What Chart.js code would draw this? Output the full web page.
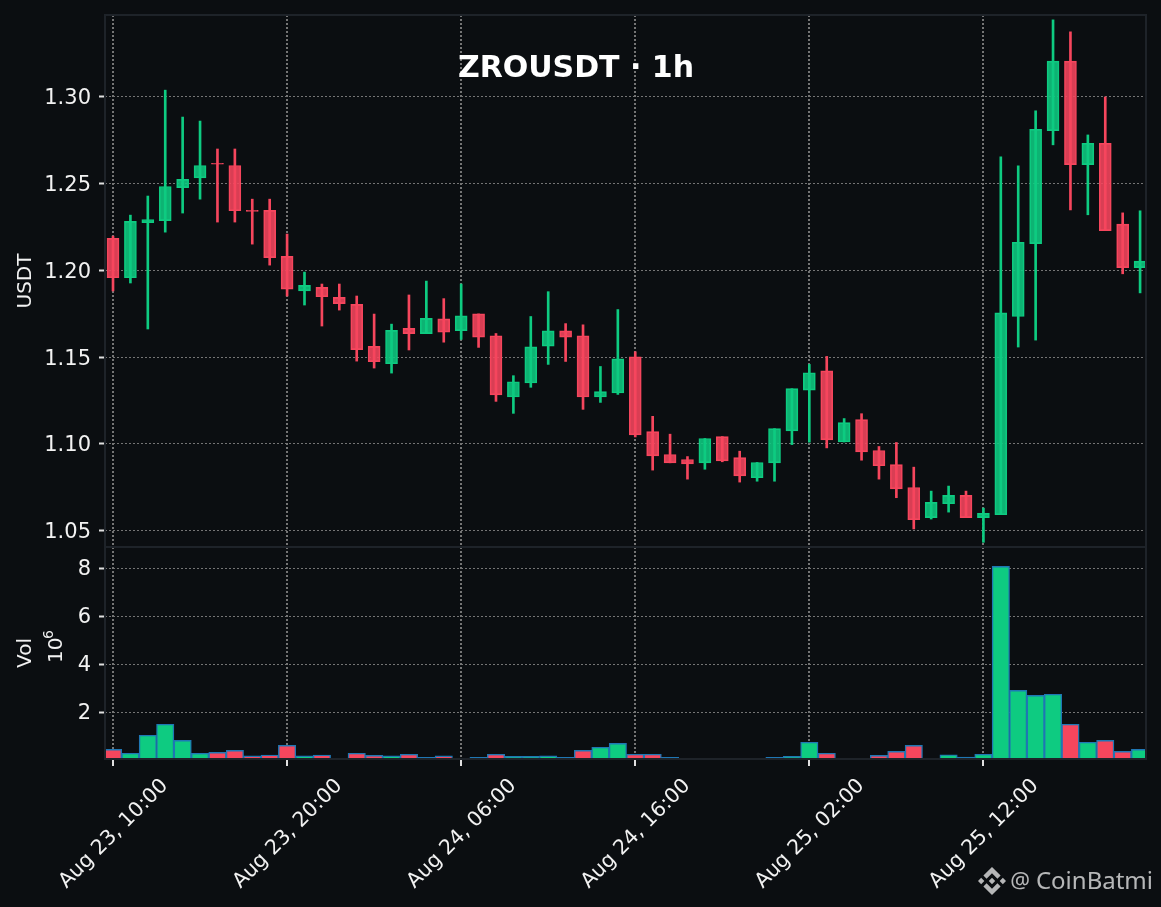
<!DOCTYPE html>
<html>
<head>
<meta charset="utf-8">
<title>ZROUSDT 1h</title>
<script src="https://cdn.jsdelivr.net/npm/chart.js@4"></script>
<style>
  html, body { margin: 0; padding: 0; background: #0b0e11; }
  canvas { display: block; }
</style>
</head>
<body>
<canvas id="chart" width="1161" height="907"></canvas>
<script>
const opens = [
  1.2184, 1.1957, 1.2274, 1.2286, 1.2476, 1.2533, 1.2617, 1.2604, 1.2345, 1.2345,
  1.2080, 1.1882, 1.1902, 1.1844, 1.1804, 1.1562, 1.1462, 1.1666, 1.1635, 1.1720,
  1.1653, 1.1749, 1.1623, 1.1270, 1.1351, 1.1563, 1.1651, 1.1623, 1.1270, 1.1293,
  1.1502, 1.1071, 1.0939, 1.0910, 1.0891, 1.1042, 1.0921, 1.0805, 1.0891, 1.1075,
  1.1310, 1.1421, 1.1011, 1.1140, 1.0962, 1.0881, 1.0749, 1.0575, 1.0655, 1.0703,
  1.0575, 1.0592, 1.1734, 1.2154, 1.2805, 1.3205, 1.2609, 1.2732, 1.2266, 1.2016,
];
const closes = [
  1.1957, 1.2282, 1.2293, 1.2483, 1.2524, 1.2604, 1.2612, 1.2343, 1.2340, 1.2073,
  1.1892, 1.1913, 1.1848, 1.1808, 1.1543, 1.1474, 1.1654, 1.1635, 1.1723, 1.1644,
  1.1738, 1.1615, 1.1282, 1.1358, 1.1559, 1.1651, 1.1615, 1.1270, 1.1301, 1.1490,
  1.1052, 1.0931, 1.0891, 1.0885, 1.1031, 1.0902, 1.0816, 1.0893, 1.1088, 1.1318,
  1.1410, 1.1023, 1.1123, 1.0954, 1.0874, 1.0741, 1.0563, 1.0663, 1.0703, 1.0575,
  1.0600, 1.1755, 1.2162, 1.2813, 1.3205, 1.2609, 1.2732, 1.2229, 1.2016, 1.2053,
];
const highs = [
  1.2197, 1.2318, 1.2428, 1.3038, 1.2883, 1.2860, 1.2699, 1.2699, 1.2410, 1.2410,
  1.2209, 1.1990, 1.1921, 1.1921, 1.1852, 1.1748, 1.1690, 1.1858, 1.1938, 1.1837,
  1.1921, 1.1749, 1.1636, 1.1393, 1.1734, 1.1877, 1.1693, 1.1686, 1.1446, 1.1774,
  1.1531, 1.1159, 1.1056, 1.0927, 1.1031, 1.1042, 1.0958, 1.0893, 1.1088, 1.1318,
  1.1458, 1.1504, 1.1146, 1.1174, 1.0985, 1.1008, 1.0866, 1.0728, 1.0757, 1.0728,
  1.0630, 1.2654, 1.2602, 1.2919, 1.3443, 1.3374, 1.2780, 1.2999, 1.2331, 1.2343,
];
const lows = [
  1.1881, 1.1927, 1.1662, 1.2220, 1.2330, 1.2410, 1.2278, 1.2278, 1.2151, 1.2030,
  1.1852, 1.1800, 1.1679, 1.1771, 1.1477, 1.1437, 1.1408, 1.1541, 1.1635, 1.1586,
  1.1602, 1.1556, 1.1245, 1.1176, 1.1326, 1.1458, 1.1475, 1.1199, 1.1239, 1.1285,
  1.1040, 1.0849, 1.0891, 1.0797, 1.0854, 1.0897, 1.0780, 1.0785, 1.0785, 1.0996,
  1.1010, 1.0977, 1.1011, 1.0906, 1.0797, 1.0690, 1.0510, 1.0567, 1.0607, 1.0575,
  1.0433, 1.0592, 1.1558, 1.1598, 1.2723, 1.2348, 1.2320, 1.2229, 1.1980, 1.1870,
];
// volume in millions
const volumes = [
  0.44, 0.28, 1.03, 1.49, 0.82, 0.28, 0.32, 0.40, 0.17, 0.21,
  0.61, 0.17, 0.21, 0.06, 0.28, 0.19, 0.17, 0.24, 0.11, 0.17,
  0.07, 0.11, 0.24, 0.15, 0.15, 0.17, 0.11, 0.40, 0.53, 0.69,
  0.24, 0.24, 0.11, 0.05, 0.05, 0.05, 0.04, 0.03, 0.11, 0.15,
  0.74, 0.28, 0.05, 0.05, 0.19, 0.36, 0.61, 0.05, 0.22, 0.12,
  0.24, 8.07, 2.90, 2.69, 2.74, 1.49, 0.74, 0.82, 0.36, 0.44,
];
const priceTicks = [1.05, 1.10, 1.15, 1.20, 1.25, 1.30];
const volumeTicks = [2, 4, 6, 8];
const timeTicks = [0, 10, 20, 30, 40, 50];
const timeLabels = ['Aug 23, 10:00', 'Aug 23, 20:00', 'Aug 24, 06:00', 'Aug 24, 16:00', 'Aug 25, 02:00', 'Aug 25, 12:00'];

const UP = '#0ecb81';
const DOWN = '#f6465d';
const UP_FILL = 'rgba(14, 203, 129, 0.88)';
const DOWN_FILL = 'rgba(246, 70, 93, 0.88)';
const BG = '#0b0e11';
const FRAME = '#1e2329';
const TEXT = '#f2f2f2';
const GRID = '#757575';

const isUp = opens.map((o, i) => closes[i] >= o);
const pick = (up, down) => isUp.map((u) => (u ? up : down));

const logoPath = new Path2D('M38.73 53.2L63.3 28.63L87.88 53.21L102.18 38.91L63.3 0L24.43 38.9z'
  + 'M0 63.31L14.3 49.01L28.6 63.31L14.3 77.61z'
  + 'M38.73 73.41L63.3 97.99L87.88 73.4L102.18 87.69L63.3 126.61L24.43 87.72z'
  + 'M98.01 63.31L112.31 49.01L126.61 63.31L112.31 77.61z'
  + 'M77.81 63.3L63.31 48.8L48.8 63.3L63.3 77.8z');

const background = {
  id: 'background',
  beforeDraw(chart) {
    const { ctx, width, height } = chart;
    ctx.save();
    ctx.fillStyle = BG;
    ctx.fillRect(0, 0, width, height);
    ctx.restore();
  },
};

function rotatedText(ctx, text, x, y, font) {
  ctx.save();
  ctx.translate(x, y);
  ctx.rotate(-Math.PI / 2);
  ctx.font = font;
  ctx.fillText(text, 0, 0);
  ctx.restore();
}

const decorations = {
  id: 'decorations',
  afterDraw(chart) {
    const { ctx, chartArea } = chart;
    const split = chart.scales.yPrice.bottom;
    ctx.save();

    ctx.strokeStyle = FRAME;
    ctx.lineWidth = 2;
    ctx.strokeRect(chartArea.left, chartArea.top, chartArea.width, chartArea.height);
    ctx.beginPath();
    ctx.moveTo(chartArea.left, split);
    ctx.lineTo(chartArea.right, split);
    ctx.stroke();

    ctx.fillStyle = '#ffffff';
    ctx.font = 'bold 30px "DejaVu Sans"';
    ctx.textAlign = 'center';
    ctx.textBaseline = 'middle';
    ctx.fillText('ZROUSDT · 1h', 576, 69);

    // volume multiplier next to the axis title
    ctx.fillStyle = TEXT;
    ctx.textAlign = 'left';
    ctx.textBaseline = 'alphabetic';
    rotatedText(ctx, '10', 62, 663, '20px "DejaVu Sans"');
    rotatedText(ctx, '6', 53, 639, '14px "DejaVu Sans"');

    // watermark
    ctx.fillStyle = 'rgba(255, 255, 255, 0.7)';
    ctx.textAlign = 'right';
    ctx.font = '24px "Noto Sans"';
    ctx.fillText('CoinBatmi', 1153, 889);
    ctx.font = '22px "Noto Sans"';
    ctx.fillText('@', 1030, 888);
    ctx.translate(978, 867);
    ctx.scale(28 / 126.61, 28 / 126.61);
    ctx.fill(logoPath);
    ctx.restore();
  },
};

function noPadding(scale) {
  scale.paddingTop = 0;
  scale.paddingBottom = 0;
  scale.paddingLeft = 0;
  scale.paddingRight = 0;
}

const toPoints = (a, b) => a.map((v, i) => ({ x: i, y: [v, b[i]] }));

new Chart(document.getElementById('chart'), {
  type: 'bar',
  data: {
    datasets: [
      {
        label: 'Volume',
        yAxisID: 'yVol',
        data: volumes.map((v, i) => ({ x: i, y: v })),
        backgroundColor: pick(UP, DOWN),
        borderColor: '#1f77b4',
        borderWidth: 1.4,
        barThickness: 17.4,
        order: 3,
      },
      {
        label: 'Wick',
        yAxisID: 'yPrice',
        data: toPoints(lows, highs),
        backgroundColor: pick(UP, DOWN),
        barThickness: 2,
        order: 2,
      },
      {
        label: 'Body',
        yAxisID: 'yPrice',
        data: toPoints(opens, closes),
        backgroundColor: pick(UP_FILL, DOWN_FILL),
        borderColor: pick(UP, DOWN),
        borderWidth: 1,
        borderSkipped: false,
        barThickness: 12,
        order: 1,
      },
    ],
  },
  plugins: [background, decorations],
  options: {
    responsive: false,
    animation: false,
    devicePixelRatio: 1,
    events: [],
    layout: { padding: { top: 15, right: 15, left: 0, bottom: 0 } },
    plugins: { legend: { display: false }, tooltip: { enabled: false } },
    datasets: { bar: { grouped: false } },
    scales: {
      x: {
        type: 'linear',
        offset: false,
        min: -0.46,
        max: 59.34,
        afterBuildTicks(scale) { scale.ticks = timeTicks.map((value) => ({ value })); },
        afterFit(scale) { scale.height = 148; noPadding(scale); },
        border: { display: false, dash: [2, 2] },
        grid: { offset: false, color: GRID, lineWidth: 2, tickColor: '#e0e0e0', tickLength: 7, tickWidth: 2 },
        ticks: {
          color: TEXT,
          font: { family: '"DejaVu Sans"', size: 20.5 },
          minRotation: 45,
          maxRotation: 45,
          autoSkip: false,
          labelOffset: 52,
          padding: 8,
          callback: (value) => timeLabels[timeTicks.indexOf(value)],
        },
      },
      yVol: {
        stack: 'panels',
        stackWeight: 212,
        min: 0.042,
        max: 8.875,
        afterBuildTicks(scale) { scale.ticks = volumeTicks.map((value) => ({ value })); },
        afterFit(scale) { scale.width = 105; noPadding(scale); },
        border: { display: false, dash: [2, 2] },
        grid: { color: GRID, lineWidth: 1, tickColor: '#e0e0e0', tickLength: 6, tickWidth: 2 },
        ticks: { color: TEXT, font: { family: '"DejaVu Sans"', size: 21 }, padding: 8, labelOffset: 2 },
        title: {
          display: true,
          text: 'Vol',
          color: TEXT,
          font: { family: '"DejaVu Sans"', size: 20, lineHeight: 1.4 },
          padding: { top: 12, bottom: 0 },
        },
      },
      yPrice: {
        stack: 'panels',
        stackWeight: 532,
        min: 1.0406,
        max: 1.3471,
        afterBuildTicks(scale) { scale.ticks = priceTicks.map((value) => ({ value })); },
        afterFit(scale) { scale.width = 105; noPadding(scale); },
        border: { display: false, dash: [2, 2] },
        grid: { color: GRID, lineWidth: 1, tickColor: '#e0e0e0', tickLength: 6, tickWidth: 2 },
        ticks: {
          color: TEXT,
          font: { family: '"DejaVu Sans"', size: 21 },
          padding: 8,
          labelOffset: 2,
          callback: (value) => value.toFixed(2),
        },
        title: {
          display: true,
          text: 'USDT',
          color: TEXT,
          font: { family: '"DejaVu Sans"', size: 20, lineHeight: 1.4 },
          padding: { top: 12, bottom: 0 },
        },
      },
    },
  },
});
</script>
</body>
</html>
